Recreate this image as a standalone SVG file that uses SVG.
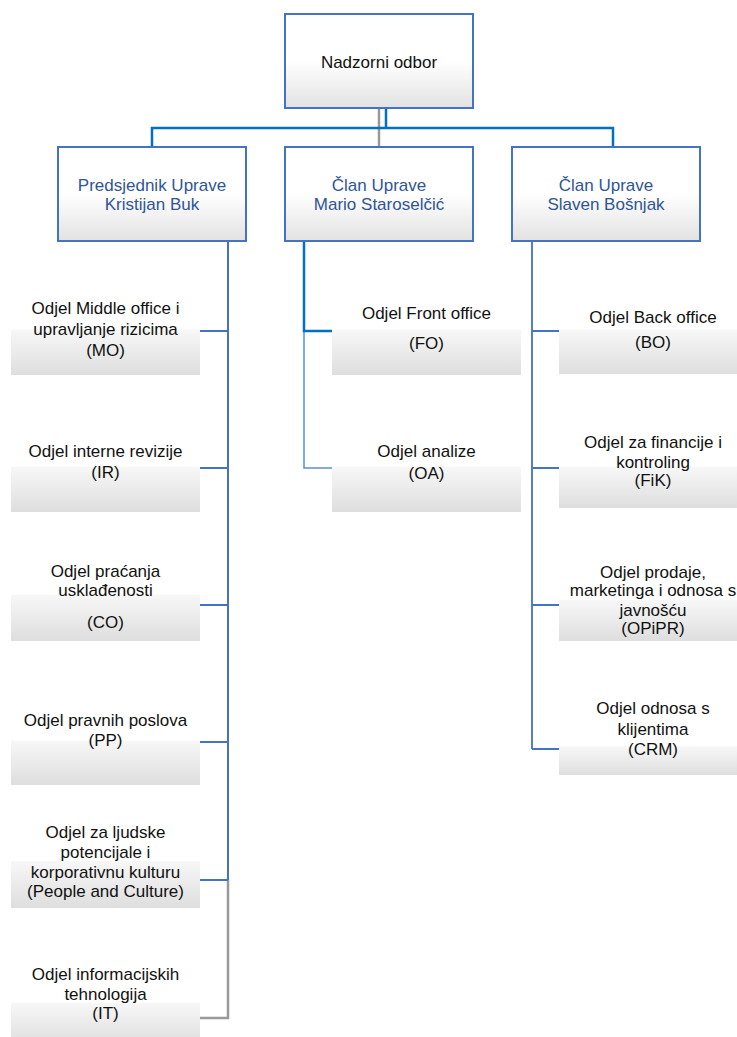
<svg xmlns="http://www.w3.org/2000/svg" width="737" height="1037" viewBox="0 0 737 1037">
<defs>
<linearGradient id="gMain" x1="0" y1="0" x2="0" y2="1">
<stop offset="0" stop-color="#ffffff"/>
<stop offset="0.5" stop-color="#ffffff"/>
<stop offset="1" stop-color="#e2e2e2"/>
</linearGradient>
<linearGradient id="gA" x1="0" y1="0" x2="0" y2="1">
<stop offset="0" stop-color="#ffffff"/>
<stop offset="0.49" stop-color="#ffffff"/>
<stop offset="0.5" stop-color="#f7f7f7"/>
<stop offset="1" stop-color="#dedede"/>
</linearGradient>
<linearGradient id="gB" x1="0" y1="0" x2="0" y2="1">
<stop offset="0" stop-color="#ffffff"/>
<stop offset="0.65" stop-color="#ffffff"/>
<stop offset="0.66" stop-color="#f7f7f7"/>
<stop offset="1" stop-color="#dedede"/>
</linearGradient>
</defs>
<style>
text{font-family:"Liberation Sans",Arial,sans-serif;font-size:17px;text-anchor:middle;fill:#111111}
.main{fill:url(#gMain);stroke:#4472C4;stroke-width:2}
.sub{fill:url(#gA);stroke:none}
.subB{fill:url(#gB);stroke:none}
.mgr text{fill:#2F5597}
.c{fill:none;stroke:#4472C4;stroke-width:1.5}
.cb{fill:none;stroke:#0070C0;stroke-width:2.5}
.cg{fill:none;stroke:#999999;stroke-width:2.5}
.cl{fill:none;stroke:#5B8FD6;stroke-width:1.5}
</style>
<rect width="737" height="1037" fill="#ffffff"/>

<g id="connectors">
<path class="cg" d="M379 108 V147"/>
<path class="cb" d="M386 108 V128 M152 147 V128 H613 V147"/>
<path class="cg" d="M228 880 V1018 H200"/>
<path class="c" d="M228 242 V880 M200 331 H228 M200 468 H228 M200 605 H228 M200 742 H228 M200 880 H228" style="stroke-width:2"/>
<path class="cl" d="M304 331 V468 H332"/>
<path class="cb" d="M304 242 V331 H333"/>
<path class="c" d="M532 242 V749 M532 331 H559 M532 468 H559 M532 605 H559 M532 749 H559" style="stroke-width:1.8"/>
</g>

<g id="nadzorni-odbor">
<rect class="main" x="285" y="14" width="188" height="94"/>
<text x="379" y="68">Nadzorni odbor</text>
</g>

<g id="predsjednik" class="mgr">
<rect class="main" x="58" y="147" width="188" height="94"/>
<text x="152" y="191">Predsjednik Uprave</text>
<text x="152" y="210">Kristijan Buk</text>
</g>
<g id="clan-mario" class="mgr">
<rect class="main" x="285" y="147" width="188" height="94"/>
<text x="379" y="191">Član Uprave</text>
<text x="379" y="210">Mario Staroselčić</text>
</g>
<g id="clan-slaven" class="mgr">
<rect class="main" x="512" y="147" width="188" height="94"/>
<text x="606" y="191">Član Uprave</text>
<text x="606" y="210">Slaven Bošnjak</text>
</g>

<g id="mo">
<rect class="sub" x="11" y="285" width="189" height="90"/>
<text x="105.5" y="314">Odjel Middle office i</text>
<text x="105.5" y="335">upravljanje rizicima</text>
<text x="105.5" y="356">(MO)</text>
</g>
<g id="ir">
<rect class="sub" x="11" y="422" width="189" height="90"/>
<text x="105.5" y="457">Odjel interne revizije</text>
<text x="105.5" y="478">(IR)</text>
</g>
<g id="co">
<rect class="sub" x="11" y="549" width="189" height="92"/>
<text x="105.5" y="577">Odjel praćanja</text>
<text x="105.5" y="596">usklađenosti</text>
<text x="105.5" y="628">(CO)</text>
</g>
<g id="pp">
<rect class="sub" x="11" y="697" width="189" height="88"/>
<text x="105.5" y="726">Odjel pravnih poslova</text>
<text x="105.5" y="746">(PP)</text>
</g>
<g id="pc">
<rect class="sub" x="11" y="815" width="189" height="93"/>
<text x="105.5" y="838">Odjel za ljudske</text>
<text x="105.5" y="858">potencijale i</text>
<text x="105.5" y="878">korporativnu kulturu</text>
<text x="105.5" y="897">(People and Culture)</text>
</g>
<g id="it">
<rect class="sub" x="11" y="961" width="189" height="84"/>
<text x="105.5" y="980">Odjel informacijskih</text>
<text x="105.5" y="1000">tehnologija</text>
<text x="105.5" y="1019">(IT)</text>
</g>

<g id="fo">
<rect class="sub" x="332" y="285" width="189" height="90"/>
<text x="426.5" y="319">Odjel Front office</text>
<text x="426.5" y="349">(FO)</text>
</g>
<g id="oa">
<rect class="sub" x="332" y="422" width="189" height="90"/>
<text x="426.5" y="457">Odjel analize</text>
<text x="426.5" y="479">(OA)</text>
</g>

<g id="bo">
<rect class="sub" x="559" y="286" width="189" height="88"/>
<text x="653" y="323">Odjel Back office</text>
<text x="653" y="348">(BO)</text>
</g>
<g id="fik">
<rect class="sub" x="559" y="426" width="189" height="82"/>
<text x="653" y="448">Odjel za financije i</text>
<text x="653" y="468">kontroling</text>
<text x="653" y="486">(FiK)</text>
</g>
<g id="opipr">
<rect class="sub" x="559" y="560" width="189" height="81"/>
<text x="653" y="578">Odjel prodaje,</text>
<text x="653" y="596">marketinga i odnosa s</text>
<text x="653" y="616">javnošću</text>
<text x="653" y="634">(OPiPR)</text>
</g>
<g id="crm">
<rect class="subB" x="559" y="692" width="189" height="83"/>
<text x="653" y="714">Odjel odnosa s</text>
<text x="653" y="735">klijentima</text>
<text x="653" y="755">(CRM)</text>
</g>
</svg>
